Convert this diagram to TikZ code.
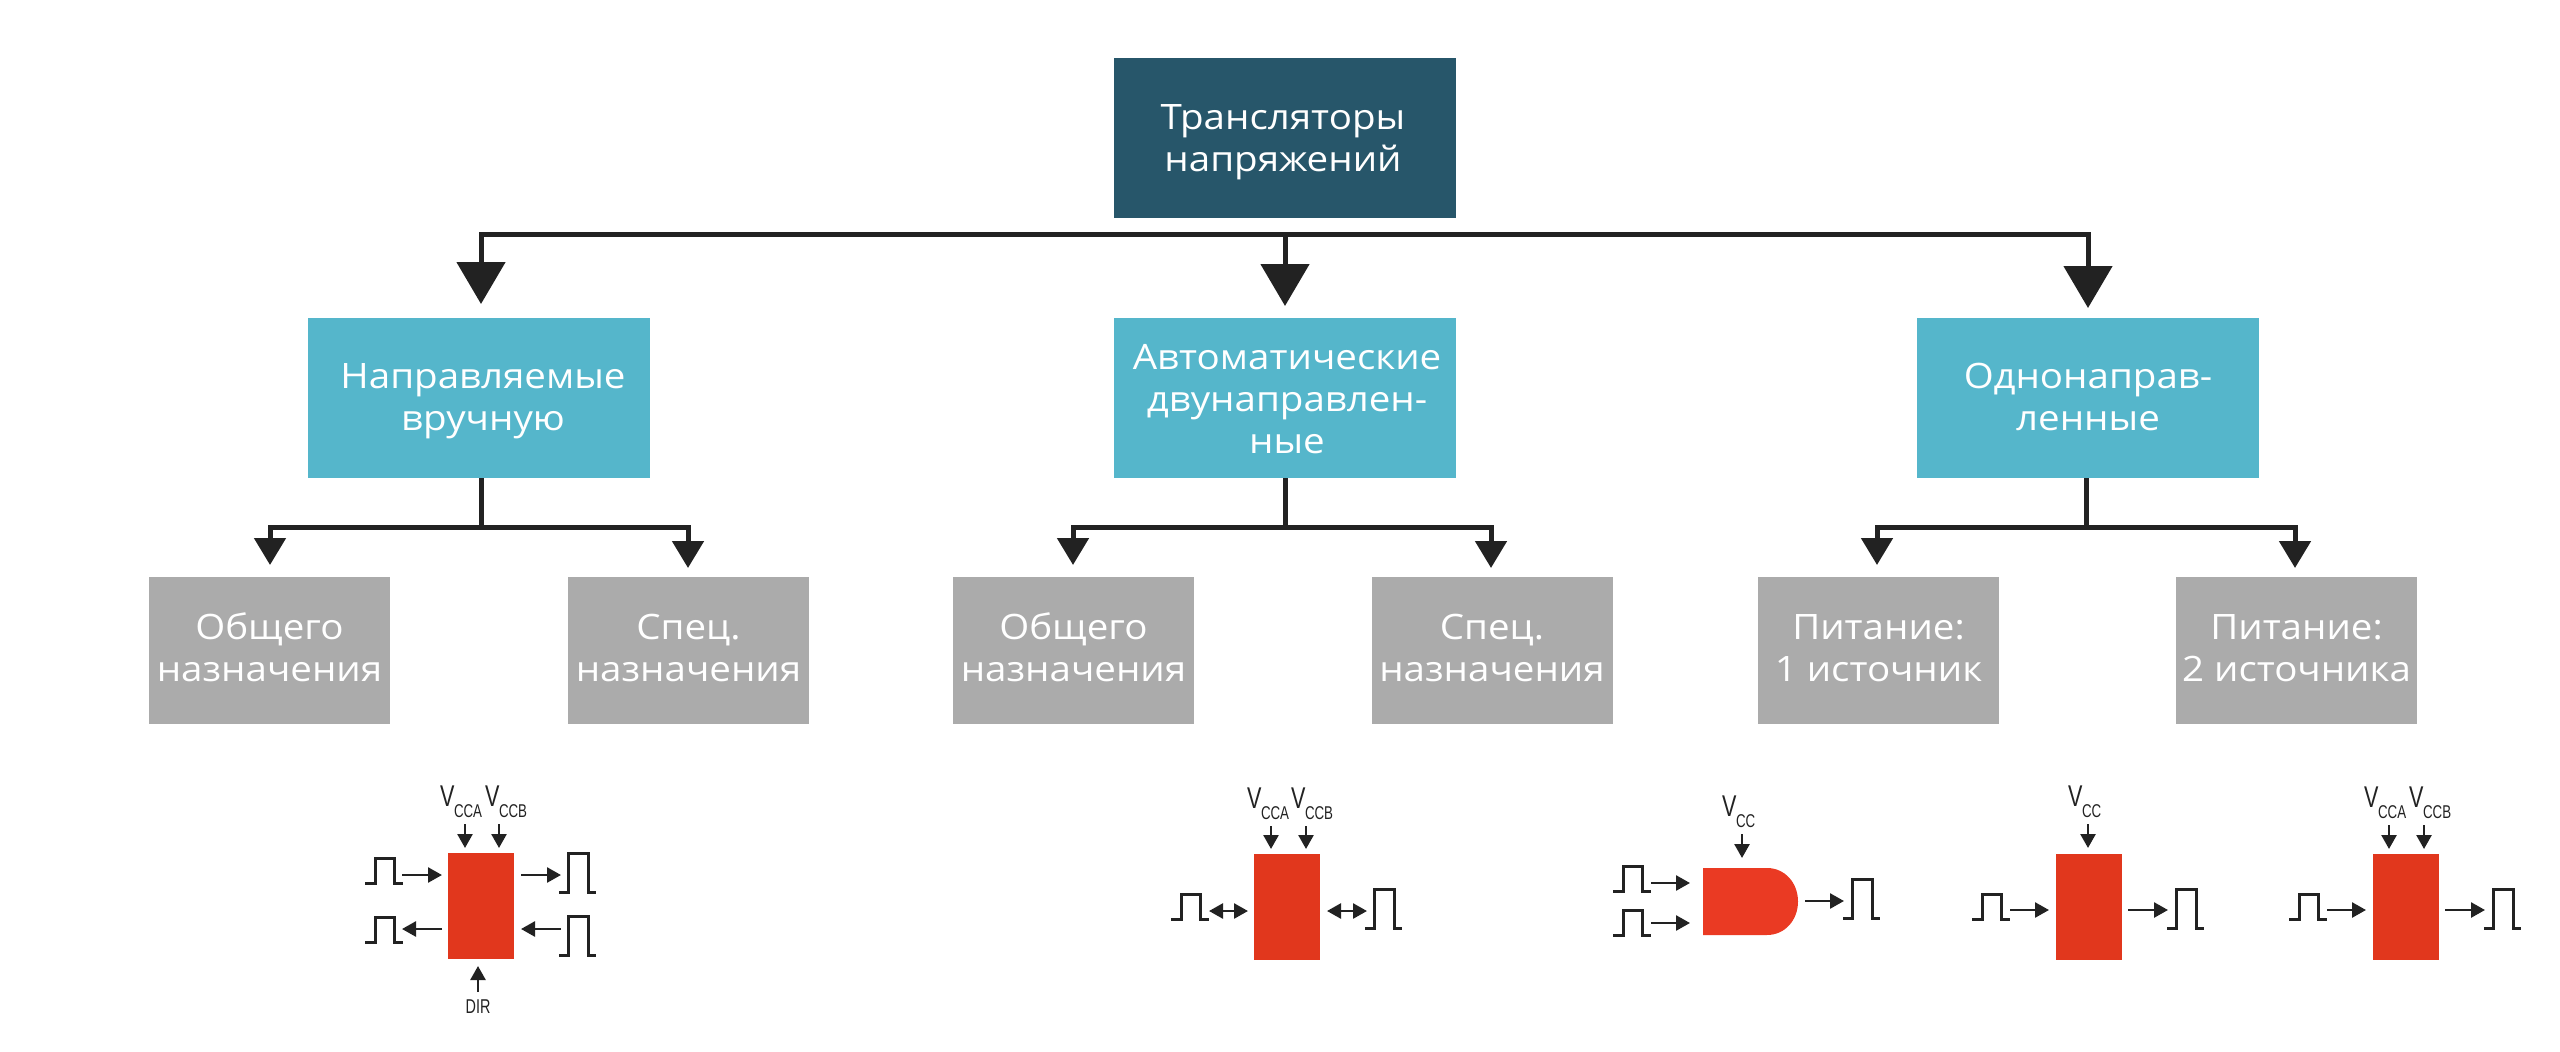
\documentclass[tikz,border=0pt]{standalone}
\usepackage{fontspec}
\setmainfont[FakeStretch=1.10]{Open Sans}
\newfontfamily\narrowfont[FakeStretch=0.72]{Liberation Sans}
\usetikzlibrary{arrows.meta}
\definecolor{topcol}{HTML}{27566A}
\definecolor{bluecol}{HTML}{55B6CB}
\definecolor{graycol}{HTML}{ABABAB}
\definecolor{redcol}{HTML}{E1371D}
\definecolor{dcol}{HTML}{EA3A23}
\definecolor{inkcol}{HTML}{222222}
\tikzset{
  anybox/.style={rectangle,inner sep=0pt,outer sep=0pt},
  boxtext/.style={inner sep=0pt,outer sep=0pt,text=white,align=center,
    font=\fontsize{35}{42}\selectfont},
  topbox/.style={anybox,fill=topcol,minimum width=342pt,minimum height=160pt},
  midbox/.style={anybox,fill=bluecol,minimum width=342pt,minimum height=160pt},
  lowbox/.style={anybox,fill=graycol,minimum width=241pt,minimum height=147pt},
  redbox/.style={rectangle,inner sep=0pt,outer sep=0pt,fill=redcol,minimum width=66pt,minimum height=106pt},
  bigconn/.style={draw=inkcol,line width=5pt,-{Triangle[length=42pt,width=48pt]}},
  midconn/.style={draw=inkcol,line width=5pt,-{Triangle[length=27pt,width=31pt]}},
  stem/.style={draw=inkcol,line width=5pt},
  bus/.style={draw=inkcol,line width=5pt,line cap=rect},
  sig/.style={draw=inkcol,line width=2.6pt,-{Triangle[length=14pt,width=15pt]}},
  sigboth/.style={draw=inkcol,line width=2.6pt,{Triangle[length=14pt,width=15pt]}-{Triangle[length=14pt,width=15pt]}},
  pulseline/.style={draw=inkcol,line width=3pt,line join=miter},
  vtext/.style={inner sep=0pt,outer sep=0pt,anchor=base west,text=inkcol,font=\narrowfont\fontsize{30}{30}\selectfont},
  subtext/.style={inner sep=0pt,outer sep=0pt,anchor=base west,text=inkcol,font=\narrowfont\fontsize{18.5}{18.5}\selectfont},
  dirtext/.style={inner sep=0pt,outer sep=0pt,text=inkcol,font=\narrowfont\fontsize{20}{20}\selectfont},
}
% box label: box name, x offset, y offset, text
\newcommand{\boxlabel}[4]{\node[boxtext,xshift=#2pt,yshift=-#3pt] (#1t) at (#1.center) {\strut #4\strut};}
% low pulse: left x, base y
\newcommand{\lowpulse}[2]{\draw[pulseline] (#1,#2) -- ({#1+10},#2) -- ({#1+10},{#2-25}) -- ({#1+29},{#2-25}) -- ({#1+29},#2) -- ({#1+38},#2);}
% tall pulse: left x, base y
\newcommand{\tallpulse}[2]{\draw[pulseline] (#1,#2) -- ({#1+9},#2) -- ({#1+9},{#2-39}) -- ({#1+29},{#2-39}) -- ({#1+29},#2) -- ({#1+37},#2);}
% signal arrow: style, name, x1, y1, x2, y2
\newcommand{\sigarrow}[6]{\coordinate (#2a) at (#3,#4); \coordinate (#2b) at (#5,#6); \draw[#1] (#2a) -- (#2b);}
% V label: name, x, baseline y, subscript
\newcommand{\vlabel}[4]{\node[vtext] (#1) at (#2,#3) {V}; \node[subtext] (#1s) at ({#2+14},{#3+11}) {#4};}
\begin{document}
\begin{tikzpicture}[x=1pt,y=-1pt]
\useasboundingbox (0,0) rectangle (2560,1052);
% main boxes
\node[topbox] (top) at (1285,138) {};
\node[midbox] (m1) at (479,398) {};
\node[midbox] (m2) at (1285,398) {};
\node[midbox] (m3) at (2088,398) {};
\node[lowbox] (a1) at (269.5,650.5) {};
\node[lowbox] (a2) at (688.5,650.5) {};
\node[lowbox] (b1) at (1073.5,650.5) {};
\node[lowbox] (b2) at (1492,650.5) {};
\node[lowbox] (c1) at (1878.5,650.5) {};
\node[lowbox] (c2) at (2296.5,650.5) {};
\boxlabel{top}{-2}{4}{Трансляторы\\напряжений}
\boxlabel{m1}{4}{3.5}{Направляемые\\вручную}
\boxlabel{m2}{2}{5.5}{Автоматические\\двунаправлен-\\ные}
\boxlabel{m3}{0}{3.5}{Однонаправ-\\ленные}
\boxlabel{a1}{0}{2}{Общего\\назначения}
\boxlabel{a2}{0}{2}{Спец.\\назначения}
\boxlabel{b1}{0}{2}{Общего\\назначения}
\boxlabel{b2}{0}{2}{Спец.\\назначения}
\boxlabel{c1}{0}{2}{Питание:\\1 источник}
\boxlabel{c2}{0}{2}{Питание:\\2 источника}
% top bus
\coordinate (busL) at (481,234);
\coordinate (busM) at (1285,234);
\coordinate (busR) at (2088,234);
\coordinate (tipL) at (481,304);
\coordinate (tipM) at (1285,306);
\coordinate (tipR) at (2088,308);
\draw[bus] (busL) -- (busR);
\draw[bigconn] (busL) -- (tipL);
\draw[bigconn] (busM) -- (tipM);
\draw[bigconn] (busR) -- (tipR);
% second level
\foreach \mm/\ll/\rr/\cx/\lx/\rx in {m1/a1/a2/481/270/688, m2/b1/b2/1285/1073/1491, m3/c1/c2/2086.5/1877/2295}{
  \coordinate (j\mm) at (\cx,527);
  \coordinate (tl\mm) at (\lx,565);
  \coordinate (tr\mm) at (\rx,568);
  \coordinate (bl\mm) at (\lx,527);
  \coordinate (br\mm) at (\rx,527);
  \draw[stem] (\mm.south -| j\mm) -- (j\mm);
  \draw[bus] (bl\mm) -- (br\mm);
  \draw[midconn] (bl\mm) -- (tl\mm);
  \draw[midconn] (br\mm) -- (tr\mm);
}
% diagram 1
\node[redbox] (r1) at (481,906) {};
\vlabel{v1a}{440}{806}{CCA}
\vlabel{v1b}{485}{806}{CCB}
\sigarrow{sig}{s1a}{465}{824}{465}{848}
\sigarrow{sig}{s1b}{499}{824}{499}{848}
\lowpulse{365}{883}
\sigarrow{sig}{s1c}{402}{875}{442}{875}
\sigarrow{sig}{s1d}{521}{875}{561}{875}
\tallpulse{559}{892}
\lowpulse{365}{942}
\sigarrow{sig}{s1e}{442}{929}{402}{929}
\sigarrow{sig}{s1f}{561}{929}{521}{929}
\tallpulse{559}{955}
\sigarrow{sig}{s1g}{478}{992}{478}{966}
\node[dirtext] (dir) at (478,1007) {DIR};
% diagram 2
\node[redbox] (r2) at (1287,907) {};
\vlabel{v2a}{1247}{808}{CCA}
\vlabel{v2b}{1291}{808}{CCB}
\sigarrow{sig}{s2a}{1271}{826}{1271}{849}
\sigarrow{sig}{s2b}{1306}{826}{1306}{849}
\lowpulse{1171}{919}
\sigarrow{sigboth}{s2c}{1209}{911}{1248}{911}
\sigarrow{sigboth}{s2d}{1327}{911}{1367}{911}
\tallpulse{1365}{928}
% diagram 3
\coordinate (d3a) at (1703,868);
\coordinate (d3b) at (1767,868);
\coordinate (d3c) at (1798,901.5);
\coordinate (d3d) at (1767,935);
\coordinate (d3e) at (1703,935);
\fill[dcol] (d3a) -- (d3b) .. controls (1785,868) and (1798,883) .. (d3c) .. controls (1798,920) and (1785,935) .. (d3d) -- (d3e) -- cycle;
\vlabel{v3}{1722}{816}{CC}
\sigarrow{sig}{s3a}{1742}{834}{1742}{858}
\lowpulse{1613}{891}
\sigarrow{sig}{s3b}{1651}{883}{1690}{883}
\lowpulse{1613}{935}
\sigarrow{sig}{s3c}{1651}{923}{1690}{923}
\sigarrow{sig}{s3d}{1805}{901}{1844}{901}
\tallpulse{1843}{918}
% diagram 4
\node[redbox] (r4) at (2088.5,907) {};
\vlabel{v4}{2068}{806}{CC}
\sigarrow{sig}{s4a}{2088}{824}{2088}{848}
\lowpulse{1972}{919}
\sigarrow{sig}{s4b}{2010}{910}{2049}{910}
\sigarrow{sig}{s4c}{2128}{910}{2168}{910}
\tallpulse{2167}{928}
% diagram 5
\node[redbox] (r5) at (2405.5,907) {};
\vlabel{v5a}{2364}{807}{CCA}
\vlabel{v5b}{2409}{807}{CCB}
\sigarrow{sig}{s5a}{2389}{825}{2389}{849}
\sigarrow{sig}{s5b}{2424}{825}{2424}{849}
\lowpulse{2289}{919}
\sigarrow{sig}{s5c}{2327}{910}{2366}{910}
\sigarrow{sig}{s5d}{2445}{910}{2485}{910}
\tallpulse{2484}{928}
\end{tikzpicture}
\end{document}
